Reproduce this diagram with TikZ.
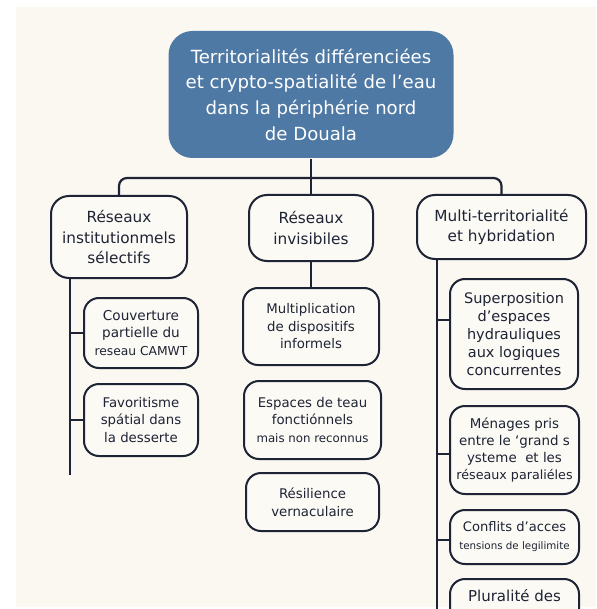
\documentclass[tikz,border=0pt]{standalone}
\usepackage{fontspec}
\setmainfont{DejaVu Sans}
\definecolor{bgcream}{HTML}{FBF8F1}
\definecolor{boxfill}{HTML}{FCFAF4}
\definecolor{navy}{HTML}{1E2335}
\definecolor{rootblue}{HTML}{4F79A5}
\newcommand\myfs[2]{\fontsize{#1}{#2}\selectfont}
\begin{document}
\begin{tikzpicture}[x=1pt,y=-1pt,
  box/.style={draw=navy, line width=2pt, rounded corners=15pt, fill=boxfill,
    text=navy, align=center, inner sep=0pt, anchor=north west},
  lvone/.style={box, rounded corners=18pt, font=\myfs{15.3}{20.5}},
  conn/.style={draw=navy, line width=2.2pt}]
\useasboundingbox (0,0) rectangle (596,609);
\fill[bgcream] (16,7) rectangle (596,607);

% root
\node[box, draw=none, fill=rootblue, text=white, rounded corners=24pt,
  minimum width=285pt, minimum height=127pt, font=\myfs{18.1}{25.7}]
  (root) at (167.5,30) {\rule{0pt}{4pt}Territorialités différenciées\\ et crypto-spatialité de l’eau\\dans la périphérie nord\\de Douala};

% level 1
\node[lvone, minimum width=136pt, minimum height=82pt] (L1) at (50,195)
  {Réseaux\\institutionmels\\sélectifs};
\node[lvone, minimum width=124pt, minimum height=66pt] (L2) at (248,194)
  {Réseaux\\invisibiles};
\node[lvone, minimum width=169pt, minimum height=64pt] (L3) at (416,194)
  {Multi-territorialité\\et hybridation};

% left children
\node[box, minimum width=114pt, minimum height=70pt, font=\myfs{13.6}{17.5}] (C11) at (83,297)
  {Couverture\\partielle du\\{\myfs{12.3}{17.5}reseau CAMWT}};
\node[box, minimum width=114pt, minimum height=72pt, font=\myfs{13.3}{17.5}] (C12) at (83,383)
  {Favoritisme\\spátial dans\\la desserte};

% middle children
\node[box, minimum width=136pt, minimum height=77pt, font=\myfs{13.3}{17.5}] (C21) at (242,287)
  {Multiplication\\de dispositifs\\informels};
\node[box, minimum width=137pt, minimum height=78pt, font=\myfs{13.3}{17.5}] (C22) at (243,380)
  {Espaces de teau\\fonctiónnels\\{\myfs{11.8}{17.5}mais non reconnus}};
\node[box, minimum width=133pt, minimum height=58pt, font=\myfs{13.3}{18}] (C23) at (245,472)
  {Résilience\\vernaculaire};

% right children
\node[box, minimum width=128pt, minimum height=110pt, font=\myfs{14.5}{18}] (C31) at (449,278)
  {Superposition\\d’espaces\\hydrauliques\\aux logiques\\concurrentes};
\node[box, minimum width=129pt, minimum height=88pt, font=\myfs{13.4}{17.3}] (C32) at (449,405)
  {Ménages pris\\entre le ‘grand s\\ysteme\ \ et les\\{\myfs{12.7}{17.3}réseaux paraliéles}};
\node[box, minimum width=129pt, minimum height=54pt, font=\myfs{13.1}{18}] (C33) at (449,509)
  {Conflits d’acces\\{\myfs{10.3}{18}tensions de legilimite}};
\node[box, minimum width=129pt, text height=22pt, text depth=38pt, font=\myfs{15}{18}] (C34) at (449,578)
  {Pluralité des};

% connectors
\path (root.south) ++(0,19) coordinate (hub);
\draw[conn] (root.south) -- (hub);
\draw[conn, rounded corners=8pt] (L1.north) |- (hub) -| (L3.north);
\draw[conn] (hub) -- (L2.north);

\coordinate (lvend) at (70,475);
\draw[conn] (L1.south -| lvend) -- (lvend);
\draw[conn] (lvend |- C11.west) -- (C11.west);
\draw[conn] (lvend |- C12.west) -- (C12.west);

\draw[conn] (L2.south) -- (C21.north);

\coordinate (rvend) at (437,615);
\path ([yshift=14pt]C31.west) coordinate (c31w)
      ([yshift=-4pt]C32.west) coordinate (c32w)
      ([yshift=-3pt]C33.west) coordinate (c33w);
\draw[conn] (L3.south -| rvend) -- (rvend);
\draw[conn] (rvend |- c31w) -- (c31w);
\draw[conn] (rvend |- c32w) -- (c32w);
\draw[conn] (rvend |- c33w) -- (c33w);
\end{tikzpicture}
\end{document}
